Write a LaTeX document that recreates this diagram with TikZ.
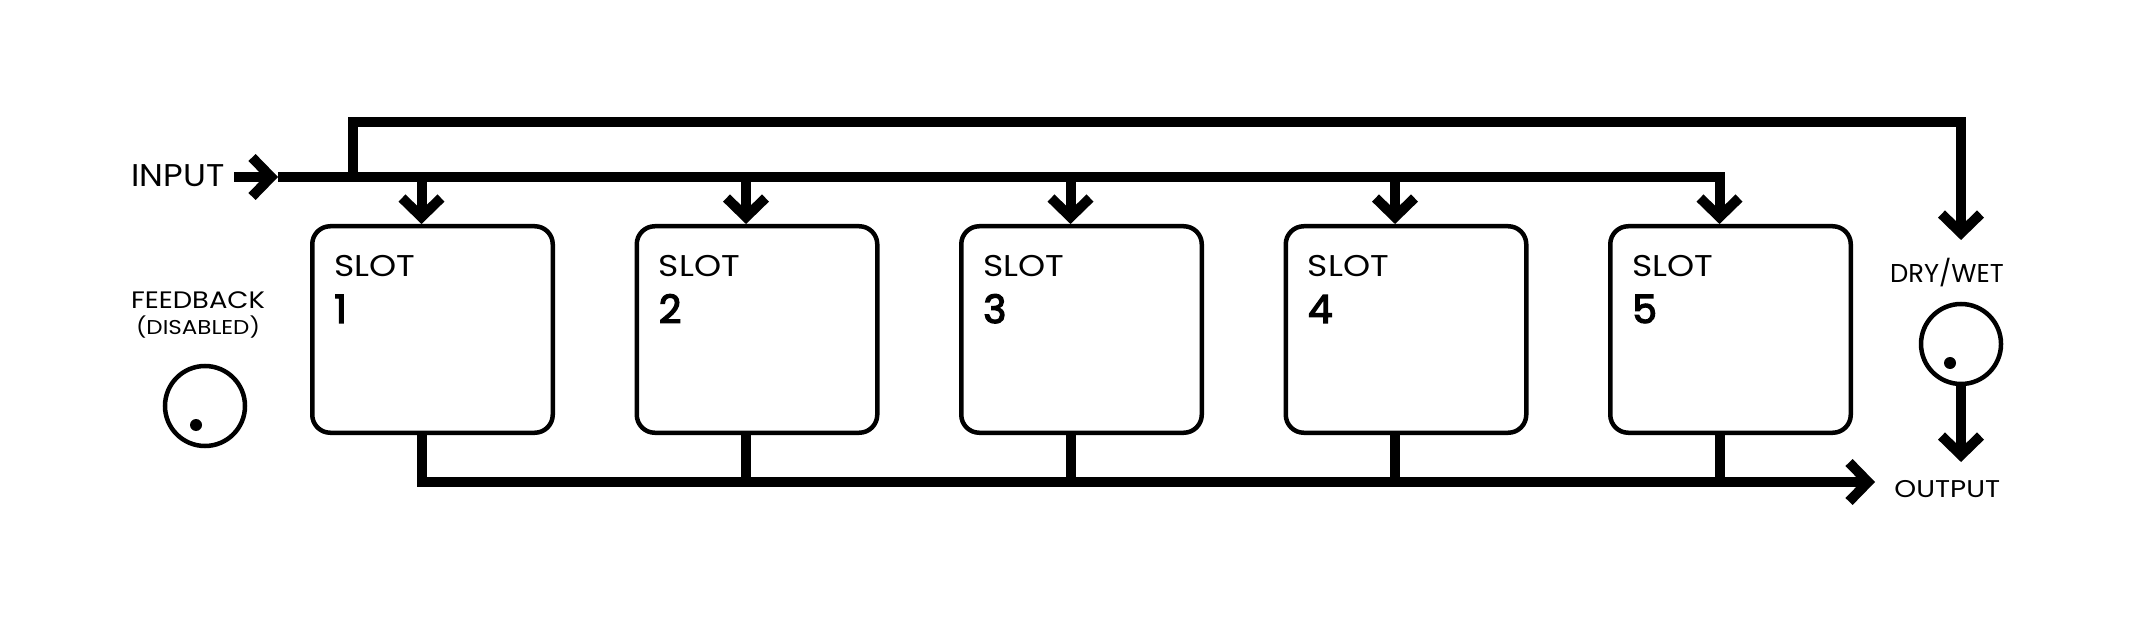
\documentclass[tikz,border=0pt]{standalone}
\usepackage{fontspec}
\setmainfont{Poppins}
\newfontfamily\widefont{Poppins}[FakeStretch=1.15]
\newfontfamily\midfont{Poppins}[FakeStretch=1.08]
\newfontfamily\numfont{Poppins}[FakeBold=3.5]
\usetikzlibrary{arrows.meta}
\begin{document}
\begin{tikzpicture}[x=0.5pt,y=-0.5pt,
  wire/.style={line width=5pt, line join=miter},
  arr/.style={wire, -{Straight Barb[length=9.5pt,width=19.5pt]}},
  slotbox/.style={draw, line width=2.25pt, rounded corners=9pt, minimum width=120.25pt, minimum height=103.25pt, inner sep=0pt},
  knob/.style={draw, circle, line width=2.25pt, minimum size=40pt, inner sep=0pt},
  knobdot/.style={fill, circle, minimum size=6pt, inner sep=0pt},
  lbl/.style={inner sep=0pt, anchor=base},
  slottxt/.style={inner sep=0pt, anchor=base west, font=\widefont\fontsize{15}{18}\selectfont},
  slotnum/.style={inner sep=0pt, anchor=base west, font=\numfont\fontsize{19.5}{22}\selectfont}
]
\useasboundingbox (0,0) rectangle (2134,625);
\fill[white] (0,0) rectangle (2134,625);

% input
\node[inner sep=0pt, anchor=base west, font=\midfont\fontsize{15.7}{18}\selectfont] (inl) at (131,187) {INPUT};
\coordinate (inA) at (234,177);
\coordinate (inTip) at (278,177);
\coordinate (bp) at (353,177);

% slots
\foreach \i in {1,...,5}{
  \pgfmathsetmacro\cx{432.5+324.5*(\i-1)}
  \node[slotbox] (box\i) at (\cx,329.5) {};
  \coordinate (d\i) at (\cx-11,177);
  \coordinate (o\i) at (\cx-11,482);
  \node[slottxt] (st\i) at (\cx-122.5+24,277) {SLOT};
  \node[slotnum] (sn\i) at (\cx-122.5+24,323) {\i};
}

% dry/wet
\coordinate (dwtip) at (1961,240);
\node[lbl, font=\fontsize{12.9}{15}\selectfont] (dwl) at (1947,283) {DRY/WET};
\node[knob] (dw) at (1961,344) {};
\node[knobdot] (dwdot) at (1950,363) {};
\coordinate (outin) at (1961,462);
\coordinate (otip) at (1875,482);
\node[inner sep=0pt, anchor=base west, font=\widefont\fontsize{12.1}{15}\selectfont] (outl) at (1894,497) {OUTPUT};

% feedback
\node[lbl, font=\widefont\fontsize{11.9}{14}\selectfont] (fbl) at (198,309) {FEEDBACK};
\node[lbl, font=\widefont\fontsize{10}{12}\selectfont] (fbd) at (198,335) {(DISABLED)};
\node[knob] (fb) at (205,406) {};
\node[knobdot] (fbdot) at (196,425) {};

% connectors
\draw[arr] (inA) -- (inTip);
\draw[arr] (inTip) -- (d5) -- (d5 |- box5.north);
\foreach \i in {1,...,4}{
  \draw[arr] (d\i) -- (d\i |- box\i.north);
}
\draw[arr] (bp) -- (bp |- 0,122) -| (dwtip);
\draw[arr] (box1.south -| o1) -- (o1) -- (otip);
\foreach \i in {2,...,5}{
  \draw[wire] (box\i.south -| o\i) -- (o\i);
}
\draw[arr] (dw.south) -- (outin);
\end{tikzpicture}
\end{document}
